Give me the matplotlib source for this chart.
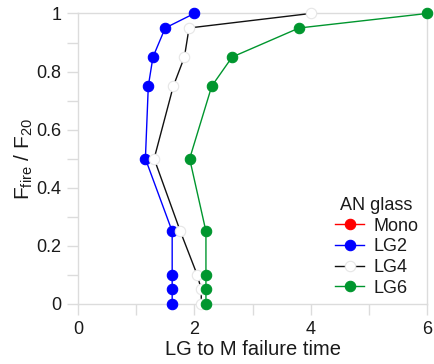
import matplotlib
matplotlib.use("Agg")
import matplotlib.pyplot as plt
from matplotlib.ticker import MultipleLocator

plt.rcParams['font.family'] = ['Liberation Sans', 'DejaVu Sans']
plt.rcParams['mathtext.fontset'] = 'custom'
plt.rcParams['mathtext.rm'] = 'Liberation Sans'
plt.rcParams['mathtext.it'] = 'Liberation Sans:italic'

# Load ratio levels (F_fire / F_20)
ratio_lg2 = [1.0, 0.95, 0.85, 0.75, 0.5, 0.25, 0.1, 0.05, 0.0]
ratio_lg4 = [1.0, 0.95, 0.85, 0.75, 0.5, 0.25, 0.1, 0.05, 0.0]
ratio_lg6 = [1.0, 0.95, 0.85, 0.75, 0.5, 0.25, 0.1, 0.05, 0.0]
ratio_mono = []

# LG to M failure time for each glass type
time_mono = []
time_lg2 = [2.0, 1.5, 1.29, 1.21, 1.16, 1.62, 1.62, 1.62, 1.62]
time_lg4 = [4.0, 1.91, 1.83, 1.64, 1.31, 1.76, 2.05, 2.12, 2.12]
time_lg6 = [6.0, 3.8, 2.65, 2.3, 1.92, 2.2, 2.2, 2.2, 2.2]

series_names = ['Mono', 'LG2', 'LG4', 'LG6']
x_ticks = [0, 2, 4, 6]
y_ticks = [0, 0.2, 0.4, 0.6, 0.8, 1]
y_tick_labels = ['0', '0.2', '0.4', '0.6', '0.8', '1']

fig = plt.figure(figsize=(4.35, 3.64), dpi=100)
ax = fig.add_axes([0.179, 0.165, 0.803, 0.798])

styles = [
    dict(color='#ff0000', mfc='#ff0000', mec='#ff0000'),
    dict(color='#0000ff', mfc='#0000ff', mec='#0000ff'),
    dict(color='#111111', mfc='white', mec='#e6e6e6'),
    dict(color='#00962e', mfc='#00962e', mec='#00962e'),
]
data = [(time_mono, ratio_mono), (time_lg2, ratio_lg2),
        (time_lg4, ratio_lg4), (time_lg6, ratio_lg6)]

for name, (xs, ys), st in zip(series_names, data, styles):
    ax.plot(xs, ys, '-o', color=st['color'], lw=1.0, ms=7.5,
            markerfacecolor=st['mfc'], markeredgecolor=st['mec'],
            markeredgewidth=0.8, label=name, clip_on=False, zorder=3)

ax.set_xlim(0, 6)
ax.set_ylim(0, 1)
ax.set_xticks(x_ticks)
ax.xaxis.set_minor_locator(MultipleLocator(1))
ax.set_yticks(y_ticks)
ax.set_yticklabels(y_tick_labels)
ax.yaxis.set_minor_locator(MultipleLocator(0.1))

spine_color = '#dcdcdc'
for s in ax.spines.values():
    s.set_color(spine_color)
    s.set_linewidth(1.0)
ax.tick_params(which='both', direction='out', length=8, width=1.0,
               color=spine_color, labelsize=13, labelcolor='#1a1a1a')
ax.tick_params(axis='x', pad=4)
ax.tick_params(axis='y', pad=4)

ax.set_xlabel('LG to M failure time', fontsize=14.5, color='#1a1a1a', labelpad=2)
ax.set_ylabel(r'F$_{\mathrm{fire}}$ / F$_{20}$', fontsize=15, color='#1a1a1a',
              labelpad=1)

leg = ax.legend(title='AN glass', loc='lower right', bbox_to_anchor=(1.005, -0.012),
                frameon=False, fontsize=13, title_fontsize=13,
                handlelength=1.6, handletextpad=0.5, labelspacing=0.2,
                borderaxespad=0.2)
leg.get_title().set_color('#1a1a1a')
for t in leg.get_texts():
    t.set_color('#1a1a1a')

fig.savefig('out.png', dpi=100)
